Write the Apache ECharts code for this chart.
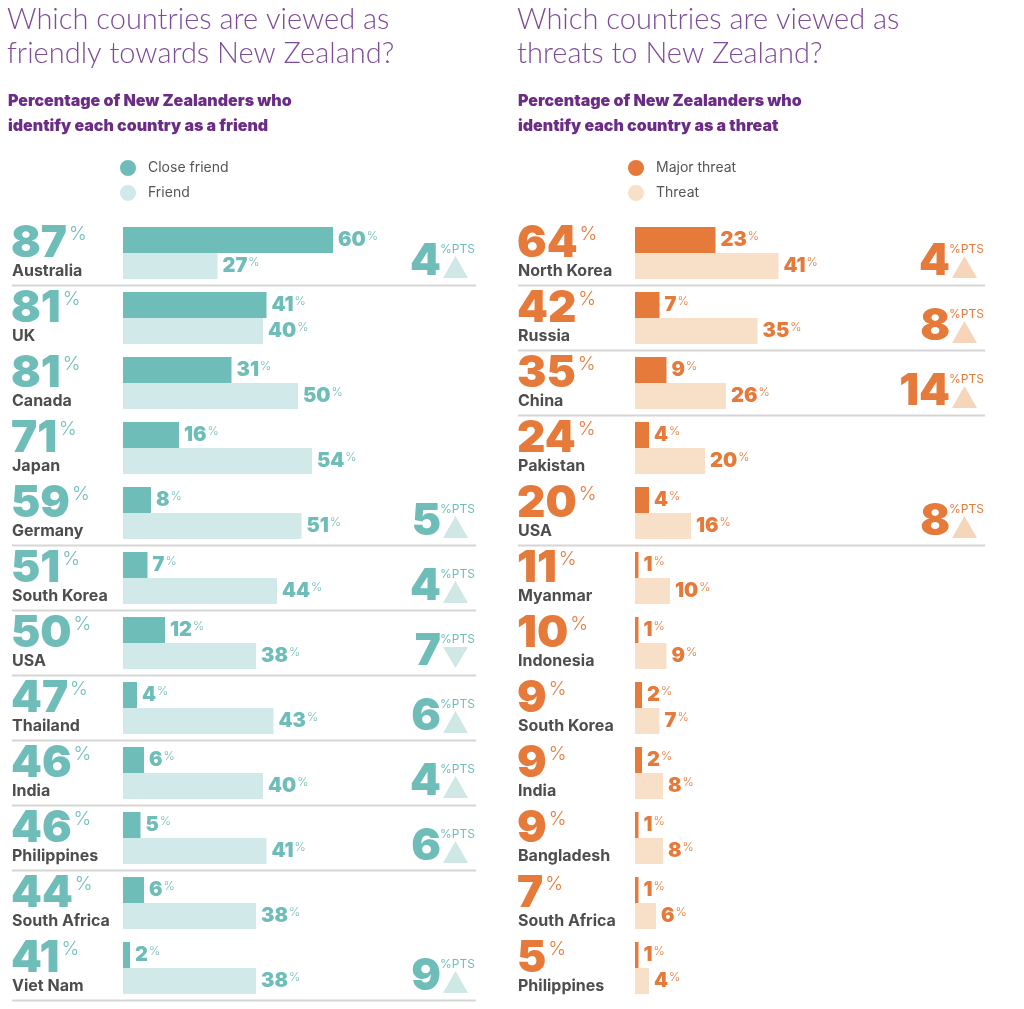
<!DOCTYPE html>
<html>
<head>
<meta charset="utf-8">
<title>Friends and threats to New Zealand</title>
<script src="https://cdn.jsdelivr.net/npm/echarts@6/dist/echarts.min.js"></script>
<style>
  html, body { margin: 0; padding: 0; background: #fff; }
  #chart { width: 1024px; height: 1009px; }
</style>
</head>
<body>
<div id="chart"></div>
<script>
// --- data: friends ---
const friendCountries = ['Australia', 'UK', 'Canada', 'Japan', 'Germany', 'South Korea', 'USA', 'Thailand', 'India', 'Philippines', 'South Africa', 'Viet Nam'];
const friendTotal = [87, 81, 81, 71, 59, 51, 50, 47, 46, 46, 44, 41];
const closeFriend = [60, 41, 31, 16, 8, 7, 12, 4, 6, 5, 6, 2];
const friend = [27, 40, 50, 54, 51, 44, 38, 43, 40, 41, 38, 38];
const friendChange = [4, null, null, null, 5, 4, -7, 6, 4, 6, null, 9];

// --- data: threats ---
const threatCountries = ['North Korea', 'Russia', 'China', 'Pakistan', 'USA', 'Myanmar', 'Indonesia', 'South Korea', 'India', 'Bangladesh', 'South Africa', 'Philippines'];
const threatTotal = [64, 42, 35, 24, 20, 11, 10, 9, 9, 9, 7, 5];
const majorThreat = [23, 7, 9, 4, 4, 1, 1, 2, 2, 1, 1, 1];
const threat = [41, 35, 26, 20, 16, 10, 9, 7, 8, 8, 6, 4];
const threatChange = [4, 8, 14, null, 8, null, null, null, null, null, null, null];

const FONT = 'Inter, "Noto Sans", sans-serif';
const TEAL = '#6fbdb9', TEAL_LIGHT = '#d1e9e8';
const ORANGE = '#e57a3b', ORANGE_LIGHT = '#f8dfc8';

const panels = [
  { countries: friendCountries, totals: friendTotal, change: friendChange,
    dark: TEAL, light: TEAL_LIGHT, tri: '#cfe8e6',
    nameX: 12, triLeft: 443, sepX1: 12, sepX2: 476 },
  { countries: threatCountries, totals: threatTotal, change: threatChange,
    dark: ORANGE, light: ORANGE_LIGHT, tri: '#f6d6ba',
    nameX: 518, triLeft: 952, sepX1: 518, sepX2: 985 }
];

function valueLabel(color) {
  return {
    show: true,
    position: 'right',
    distance: 5,
    formatter: '{v|{c}}{p|%}',
    rich: {
      v: { fontFamily: FONT, fontWeight: 900, fontSize: 20, color: color },
      p: { fontFamily: FONT, fontWeight: 300, fontSize: 12, color: color, verticalAlign: 'top', padding: [0, 0, 0, 1] }
    }
  };
}

function rowRenderer(panel) {
  return function (params, api) {
    const i = params.dataIndex;
    const cy = api.coord([0, api.value(1)])[1];
    const band = api.size([0, 1])[1];
    const children = [];

    children.push({
      type: 'text',
      style: {
        text: '{n|' + panel.totals[i] + '}{p|%}',
        x: panel.nameX - 1, y: cy - 9,
        align: 'left', verticalAlign: 'middle',
        rich: {
          n: { fontFamily: FONT, fontWeight: 900, fontSize: 44, fill: panel.dark, lineHeight: 44 },
          p: { fontFamily: FONT, fontWeight: 300, fontSize: 19, fill: panel.dark, verticalAlign: 'top', padding: [3, 0, 0, 2] }
        }
      }
    });
    children.push({
      type: 'text',
      style: {
        text: panel.countries[i],
        x: panel.nameX, y: cy + 18,
        align: 'left', verticalAlign: 'middle',
        fontFamily: FONT, fontWeight: 700, fontSize: 16, fill: '#4d4d4d'
      }
    });

    const ch = panel.change[i];
    if (ch !== null) {
      const t = panel.triLeft;
      children.push({
        type: 'text',
        style: {
          text: String(Math.abs(ch)),
          x: t - 2, y: cy + 9,
          align: 'right', verticalAlign: 'middle',
          fontFamily: FONT, fontWeight: 900, fontSize: 44, fill: panel.dark
        }
      });
      children.push({
        type: 'text',
        style: {
          text: '%PTS',
          x: t - 3, y: cy - 4,
          align: 'left', verticalAlign: 'middle',
          fontFamily: FONT, fontWeight: 400, fontSize: 12, fill: panel.dark
        }
      });
      const pts = ch > 0
        ? [[t, cy + 25], [t + 25, cy + 25], [t + 12.5, cy + 3]]
        : [[t, cy + 4], [t + 25, cy + 4], [t + 12.5, cy + 25]];
      children.push({ type: 'polygon', shape: { points: pts }, style: { fill: panel.tri } });
      children.push({
        type: 'line',
        shape: { x1: panel.sepX1, y1: cy + band / 2, x2: panel.sepX2, y2: cy + band / 2 },
        style: { stroke: '#d6d6d6', lineWidth: 2 }
      });
    }
    return { type: 'group', children: children };
  };
}

const chart = echarts.init(document.getElementById('chart'));

const option = {
  animation: false,
  backgroundColor: '#fff',
  title: [
    { text: 'Which countries are viewed as\nfriendly towards New Zealand?', left: 7, top: 3, padding: 0,
      textStyle: { fontFamily: 'Lato, sans-serif', fontWeight: 300, fontSize: 29, lineHeight: 34, color: '#7d4c96' } },
    { text: 'Percentage of New Zealanders who\nidentify each country as a friend', left: 8, top: 89, padding: 0,
      textStyle: { fontFamily: FONT, fontWeight: 900, fontSize: 16, lineHeight: 25, color: '#6b2c86' } },
    { text: 'Which countries are viewed as\nthreats to New Zealand?', left: 517, top: 3, padding: 0,
      textStyle: { fontFamily: 'Lato, sans-serif', fontWeight: 300, fontSize: 29, lineHeight: 34, color: '#7d4c96' } },
    { text: 'Percentage of New Zealanders who\nidentify each country as a threat', left: 518, top: 89, padding: 0,
      textStyle: { fontFamily: FONT, fontWeight: 900, fontSize: 16, lineHeight: 25, color: '#6b2c86' } }
  ],
  legend: [
    { data: ['Close friend', 'Friend'], orient: 'vertical', left: 120, top: 160, padding: 0,
      icon: 'circle', itemWidth: 16, itemHeight: 16, itemGap: 9, selectedMode: false,
      textStyle: { fontFamily: FONT, fontSize: 14, color: '#555', padding: [0, 0, 0, 7] } },
    { data: ['Major threat', 'Threat'], orient: 'vertical', left: 628, top: 160, padding: 0,
      icon: 'circle', itemWidth: 16, itemHeight: 16, itemGap: 9, selectedMode: false,
      textStyle: { fontFamily: FONT, fontSize: 14, color: '#555', padding: [0, 0, 0, 7] } }
  ],
  grid: [
    { left: 123, top: 220.5, width: 350, height: 780 },
    { left: 635, top: 220.5, width: 350, height: 780 }
  ],
  xAxis: [
    { gridIndex: 0, type: 'value', min: 0, max: 100, show: false },
    { gridIndex: 1, type: 'value', min: 0, max: 100, show: false }
  ],
  yAxis: [
    { gridIndex: 0, type: 'category', data: friendCountries, inverse: true, show: false },
    { gridIndex: 1, type: 'category', data: threatCountries, inverse: true, show: false }
  ],
  series: [
    { name: 'Close friend', type: 'bar', xAxisIndex: 0, yAxisIndex: 0, data: closeFriend,
      barGap: '0%', barCategoryGap: '20%', itemStyle: { color: TEAL }, label: valueLabel(TEAL) },
    { name: 'Friend', type: 'bar', xAxisIndex: 0, yAxisIndex: 0, data: friend,
      barGap: '0%', barCategoryGap: '20%', itemStyle: { color: TEAL_LIGHT }, label: valueLabel(TEAL) },
    { name: 'Major threat', type: 'bar', xAxisIndex: 1, yAxisIndex: 1, data: majorThreat,
      barGap: '0%', barCategoryGap: '20%', itemStyle: { color: ORANGE }, label: valueLabel(ORANGE) },
    { name: 'Threat', type: 'bar', xAxisIndex: 1, yAxisIndex: 1, data: threat,
      barGap: '0%', barCategoryGap: '20%', itemStyle: { color: ORANGE_LIGHT }, label: valueLabel(ORANGE) },
    { type: 'custom', xAxisIndex: 0, yAxisIndex: 0, renderItem: rowRenderer(panels[0]),
      data: friendCountries.map((c, i) => [0, i]), silent: true },
    { type: 'custom', xAxisIndex: 1, yAxisIndex: 1, renderItem: rowRenderer(panels[1]),
      data: threatCountries.map((c, i) => [0, i]), silent: true }
  ]
};

chart.setOption(option);
window.addEventListener('resize', function () {
  chart.resize();
});
</script>
</body>
</html>
